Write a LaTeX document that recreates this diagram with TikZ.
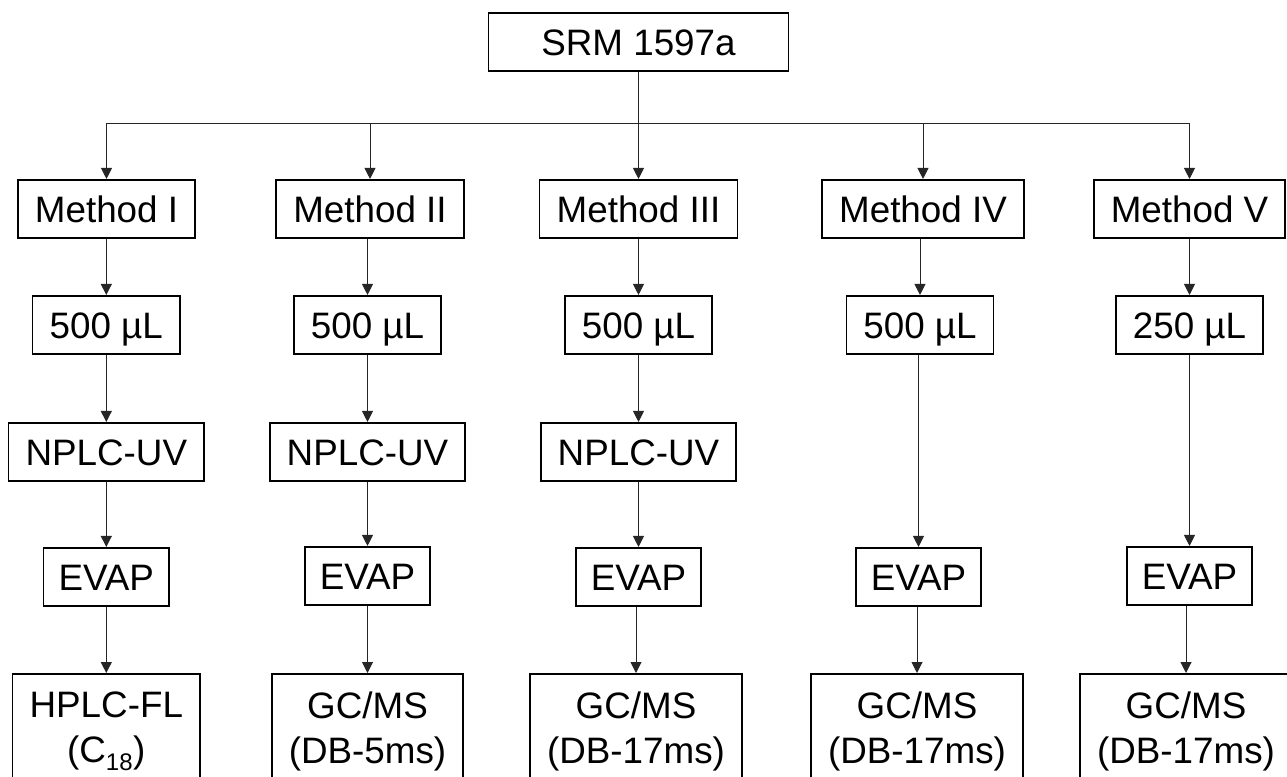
\documentclass[tikz,border=0pt]{standalone}
\usepackage{fontspec}
\setmainfont{Liberation Sans}
\usetikzlibrary{arrows.meta}

\tikzset{
  box/.style={draw=black, line width=1.6pt, inner xsep=17pt, inner ysep=0pt,
    minimum height=58.5pt, text height=26.3pt, text depth=0pt,
    font=\fontsize{36.8}{44}\selectfont},
  topbox/.style={box, minimum width=300pt},
  endbox/.style={draw=black, line width=1.6pt, inner xsep=17pt, inner ysep=18pt,
    anchor=north, align=center, font=\fontsize{36.8}{45}\selectfont},
  wire/.style={draw=black!85, line width=1pt},
  arr/.style={wire, -{Triangle[length=11pt, width=11pt]}}
}

\begin{document}
\begin{tikzpicture}[x=1pt, y=-1pt]
  \useasboundingbox (0,0) rectangle (1287,776);

  % source sample
  \node[topbox] (srm) at (638.5,42) {SRM 1597a};

  % the five methods
  \node[box] (m1) at (106.5,209) {Method I};
  \node[box] (m2) at (370,209)   {Method II};
  \node[box] (m3) at (638.5,209) {Method III};
  \node[box] (m4) at (923,209)   {Method IV};
  \node[box] (m5) at (1189.5,209) {Method V};

  % sample volumes
  \node[box] (v1) at (106.3,325) {500 µL};
  \node[box] (v2) at (367.5,325) {500 µL};
  \node[box] (v3) at (638.5,325) {500 µL};
  \node[box] (v4) at (920,325)   {500 µL};
  \node[box] (v5) at (1189.5,325) {250 µL};

  % clean-up
  \node[box] (n1) at (106.3,452) {NPLC-UV};
  \node[box] (n2) at (367.5,452) {NPLC-UV};
  \node[box] (n3) at (638.5,452) {NPLC-UV};

  % evaporation
  \node[box, inner xsep=15pt] (e1) at (106.3,577) {EVAP};
  \node[box, inner xsep=15pt] (e2) at (367.5,576) {EVAP};
  \node[box, inner xsep=15pt] (e3) at (638.5,577) {EVAP};
  \node[box, inner xsep=15pt] (e4) at (918.5,577) {EVAP};
  \node[box, inner xsep=15pt] (e5) at (1189.5,576) {EVAP};

  % instrumental analysis
  \node[endbox] (b1) at (106.3,673)  {HPLC-FL\\(C\textsubscript{\fontsize{24}{24}\selectfont 18})};
  \node[endbox] (b2) at (367.5,673)  {GC/MS\\(DB-5ms)};
  \node[endbox] (b3) at (636,673)    {GC/MS\\(DB-17ms)};
  \node[endbox] (b4) at (917,673)    {GC/MS\\(DB-17ms)};
  \node[endbox] (b5) at (1186,673)   {GC/MS\\(DB-17ms)};

  % distribution bus
  \coordinate (bus) at (638.5,123);
  \draw[wire] (bus -| m1.north) -- (bus -| m5.north);
  \draw[arr] (srm.south) -- (m3.north);
  \foreach \m in {m1,m2,m4,m5}
    \draw[arr] (bus -| \m.north) -- (\m.north);

  % vertical flow in each column
  \foreach \a/\b in {m1/v1, m2/v2, m3/v3, m4/v4, m5/v5,
                     v1/n1, v2/n2, v3/n3,
                     n1/e1, n2/e2, n3/e3,
                     v4/e4, v5/e5,
                     e1/b1, e2/b2, e3/b3, e4/b4, e5/b5}
    \draw[arr] (\a.south -| \b.north) -- (\b.north);
\end{tikzpicture}
\end{document}
